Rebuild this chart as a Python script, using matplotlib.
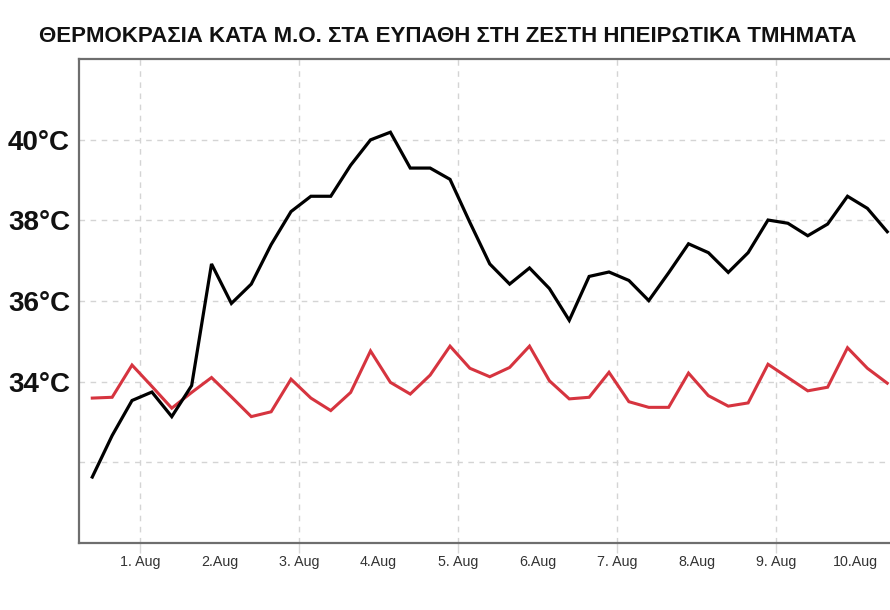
import numpy as np
import matplotlib
matplotlib.use("Agg")
import matplotlib.pyplot as plt

# ---- data ----
start_day = 0.4          # first sample position (days)
step_day = 0.25          # 6-hourly samples
black_temps = [31.63, 32.66, 33.53, 33.74, 33.13, 33.90, 36.92, 35.94, 36.42, 37.40,
               38.22, 38.60, 38.60, 39.37, 40.00, 40.19, 39.30, 39.30, 39.02, 37.95,
               36.92, 36.42, 36.82, 36.31, 35.52, 36.61, 36.72, 36.51, 36.01, 36.70,
               37.42, 37.20, 36.71, 37.20, 38.01, 37.93, 37.62, 37.91, 38.60, 38.30,
               37.72]
red_temps = [33.59, 33.61, 34.41, 33.88, 33.34, 33.73, 34.10, 33.62, 33.13, 33.25,
             34.06, 33.59, 33.28, 33.73, 34.76, 33.98, 33.69, 34.16, 34.88, 34.33,
             34.12, 34.35, 34.88, 34.02, 33.57, 33.61, 34.23, 33.50, 33.36, 33.36,
             34.21, 33.65, 33.39, 33.47, 34.43, 34.10, 33.77, 33.86, 34.84, 34.33,
             33.96]
day_ticks = [1, 2, 3, 4, 5, 6, 7, 8, 9, 10]
day_labels = ["1. Aug", "2.Aug", "3. Aug", "4.Aug", "5. Aug", "6.Aug",
              "7. Aug", "8.Aug", "9. Aug", "10.Aug"]
y_ticks = [32, 34, 36, 38, 40]
y_labels = ["", "34°C", "36°C", "38°C", "40°C"]
title = "ΘΕΡΜΟΚΡΑΣΙΑ ΚΑΤΑ Μ.Ο. ΣΤΑ ΕΥΠΑΘΗ ΣΤΗ ΖΕΣΤΗ ΗΠΕΙΡΩΤΙΚΑ ΤΜΗΜΑΤΑ"

x = start_day + step_day * np.arange(len(black_temps))

plt.rcParams['font.family'] = ['Liberation Sans', 'DejaVu Sans']

W, H = 890, 610
fig = plt.figure(figsize=(W / 100, H / 100), dpi=100)
fig.patch.set_facecolor('white')
ax = fig.add_axes([79 / W, (H - 542.7) / H, 816.2 / W, 483.4 / H])

ax.plot(x, red_temps, color='#d6343f', lw=2.2, solid_joinstyle='miter', zorder=3)
ax.plot(x, black_temps, color='#000000', lw=2.3, solid_joinstyle='miter', zorder=4)

ax.set_xlim(0.233, 10.5)
ax.set_ylim(30, 42)

# x ticks: gridlines/tick marks at odd days, labels every day
odd = [d for d in day_ticks if d % 2 == 1]
even = [d for d in day_ticks if d % 2 == 0]
ax.set_xticks(odd, [day_labels[day_ticks.index(d)] for d in odd])
ax.set_xticks(even, [day_labels[day_ticks.index(d)] for d in even], minor=True)
ax.tick_params(axis='x', which='major', length=7, width=1, color='#d8d8d8',
               labelsize=10.3, labelcolor='#333333', pad=1.5)
ax.tick_params(axis='x', which='minor', length=0, labelsize=10.3,
               labelcolor='#333333', pad=8.5)

ax.set_yticks(y_ticks, y_labels)
ax.tick_params(axis='y', length=0, pad=6.5, labelsize=20)
for lab in ax.get_yticklabels():
    lab.set_fontweight('bold')
    lab.set_color('#111111')

ax.grid(True, which='major', axis='both', color='#d4d4d4', lw=1.0,
        linestyle=(0, (4, 4)))
ax.set_axisbelow(True)

for side in ['left', 'bottom', 'top', 'right']:
    ax.spines[side].set_color('#6e6e6e')
    ax.spines[side].set_linewidth(1.6)

fig.text(448 / W, 1 - 36 / H, title, ha='center', va='center',
         fontsize=16, fontweight='bold', color='#111111')

fig.savefig('out.png', dpi=100, facecolor='white')
